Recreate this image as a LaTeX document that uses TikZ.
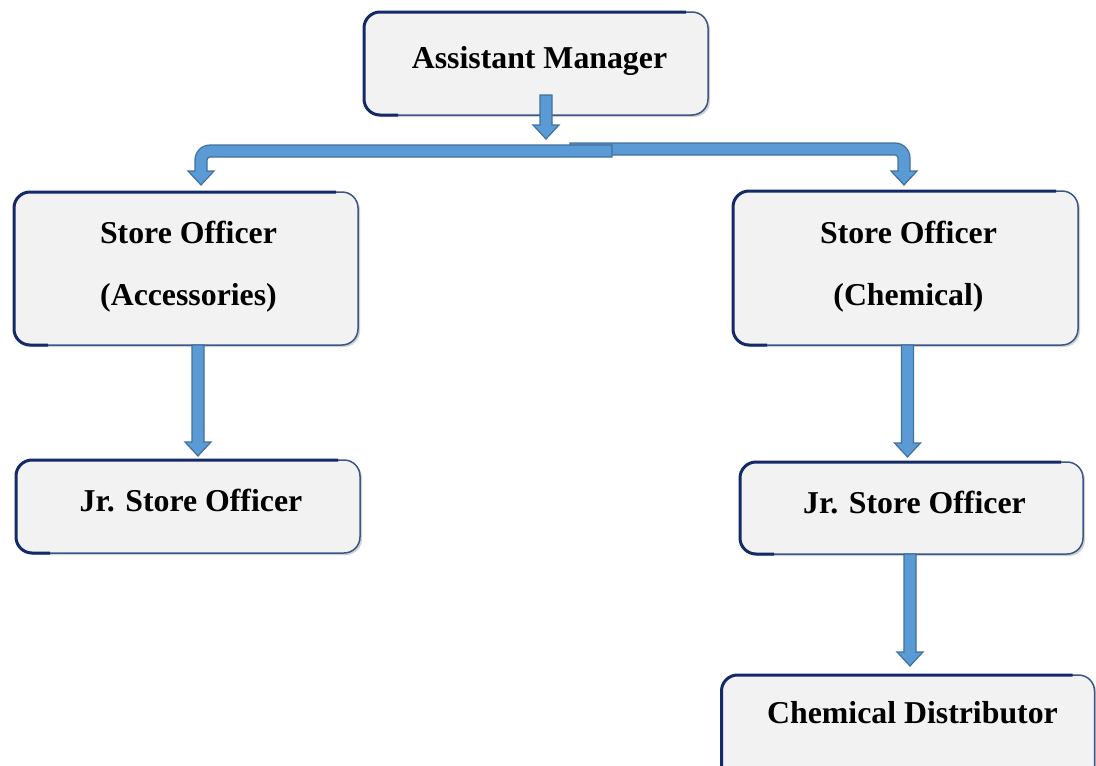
\documentclass[tikz,border=0pt]{standalone}
\usepackage{fontspec}
\setmainfont{Liberation Serif}
\usetikzlibrary{calc,shadows}
\definecolor{boxfill}{HTML}{F2F2F2}
\definecolor{boxline}{HTML}{3A5788}
\definecolor{boxdark}{HTML}{142A68}
\definecolor{arrfill}{HTML}{5B9BD5}
\definecolor{arrline}{HTML}{41719C}

\newcommand\vblock[2]{%
 \path[barrow] let \p1=(#1), \p2=(#2) in
 (\x2-6pt,\y1) -- (\x2-6pt,\y2+14pt) -- (\x2-13pt,\y2+14pt) -- (\x2,\y2)
 -- (\x2+13pt,\y2+14pt) -- (\x2+6pt,\y2+14pt) -- (\x2+6pt,\y1) -- cycle;}

\newcommand\bblock[3]{%
 \path[barrow] let \p1=(#1), \p2=(#2), \n1={#3} in
 (\x1,\y1+6pt) -- ({\x2-(\n1)*9pt},\y1+6pt)
 .. controls ({\x2-(\n1)*0.7pt},\y1+6pt) and ({\x2+(\n1)*6pt},\y1-0.7pt) .. ({\x2+(\n1)*6pt},\y1-9pt)
 -- ({\x2+(\n1)*6pt},\y2+14pt) -- ({\x2+(\n1)*13pt},\y2+14pt) -- (\x2,\y2)
 -- ({\x2-(\n1)*13pt},\y2+14pt) -- ({\x2-(\n1)*6pt},\y2+14pt)
 -- ({\x2-(\n1)*6pt},\y1-9pt) .. controls ({\x2-(\n1)*6pt},\y1-7.3pt) and ({\x2-(\n1)*7.3pt},\y1-6pt) .. ({\x2-(\n1)*9pt},\y1-6pt)
 -- (\x1,\y1-6pt) -- cycle;}

\newcommand\thickedge[1]{%
 \draw[edgeline] ([xshift=34pt]#1.south west) -- (#1.south west) -- (#1.north west) -- ([xshift=-22pt]#1.north east);}

\begin{document}
\begin{tikzpicture}[x=1pt,y=-1pt,
 orgbox/.style={rectangle, rounded corners=16pt, draw=boxline, line width=1.5pt, fill=boxfill,
   outer sep=0pt, inner sep=0pt,
   drop shadow={shadow xshift=2pt, shadow yshift=-2pt, fill=black, opacity=0.18}},
 edgeline/.style={draw=boxdark, line width=3pt, rounded corners=16pt},
 lbl/.style={font=\bfseries\fontsize{31.8}{38}\selectfont, inner sep=0pt, anchor=base},
 barrow/.style={fill=arrfill, draw=arrline, line width=1.2pt, line join=miter}]
\useasboundingbox (0,0) rectangle (1096,766);
\begin{scope}
\clip (0,0) rectangle (1096,766);
\fill[white] (0,0) rectangle (1096,766);
% boxes
\node[orgbox, minimum width=344pt, minimum height=103pt] (am) at (536,63.5) {};
\node[orgbox, minimum width=344pt, minimum height=153pt] (soA) at (186,268.5) {};
\node[orgbox, minimum width=345pt, minimum height=154pt] (soC) at (905.5,268) {};
\node[orgbox, minimum width=344pt, minimum height=93pt] (jrA) at (188,506.5) {};
\node[orgbox, minimum width=343pt, minimum height=92pt] (jrC) at (911.5,508) {};
\node[orgbox, minimum width=373pt, minimum height=110pt] (cd) at (908,730) {};
\thickedge{am}
\thickedge{soA}
\thickedge{soC}
\thickedge{jrA}
\thickedge{jrC}
\thickedge{cd}
% texts
\node[lbl] (amt) at ([shift={(3.5pt,-4.5pt)}]am.center) {Assistant Manager};
\node[lbl] (soAt1) at ([shift={(2.5pt,25.5pt)}]soA.center) {Store Officer};
\node[lbl] (soAt2) at ([shift={(2.5pt,-36.5pt)}]soA.center) {(Accessories)};
\node[lbl] (soCt1) at ([shift={(3pt,25pt)}]soC.center) {Store Officer};
\node[lbl] (soCt2) at ([shift={(3pt,-37pt)}]soC.center) {(Chemical)};
\node[lbl] (jrAt) at ([shift={(3pt,-4.5pt)}]jrA.center) {Jr. Store Officer};
\node[lbl] (jrCt) at ([shift={(3pt,-5pt)}]jrC.center) {Jr. Store Officer};
\node[lbl] (cdt) at ([shift={(4.5pt,7pt)}]cd.center) {Chemical Distributor};
% connector points
\coordinate (amS) at ([shift={(10pt,20pt)}]am.south);
\coordinate (amT) at ([shift={(10pt,-24pt)}]am.south);
\coordinate (rbar) at ([shift={(34pt,-34pt)}]am.south);
\coordinate (lbar) at ([shift={(76pt,-36pt)}]am.south);
\coordinate (soAin) at ([shift={(15pt,7pt)}]soA.north);
\coordinate (soCin) at ([shift={(-1.5pt,6pt)}]soC.north);
\coordinate (soAout) at ([xshift=12pt]soA.south);
\coordinate (jrAin) at ([shift={(10pt,4pt)}]jrA.north);
\coordinate (soCout) at ([xshift=2pt]soC.south);
\coordinate (jrCin) at ([shift={(-4pt,5pt)}]jrC.north);
\coordinate (jrCout) at ([xshift=-1.5pt]jrC.south);
\coordinate (cdin) at ([shift={(2pt,9pt)}]cd.north);
% arrows
\vblock{amS}{amT}
\bblock{rbar}{soCin}{1}
\bblock{lbar}{soAin}{-1}
\vblock{soAout}{jrAin}
\vblock{soCout}{jrCin}
\vblock{jrCout}{cdin}
\end{scope}
\end{tikzpicture}
\end{document}
